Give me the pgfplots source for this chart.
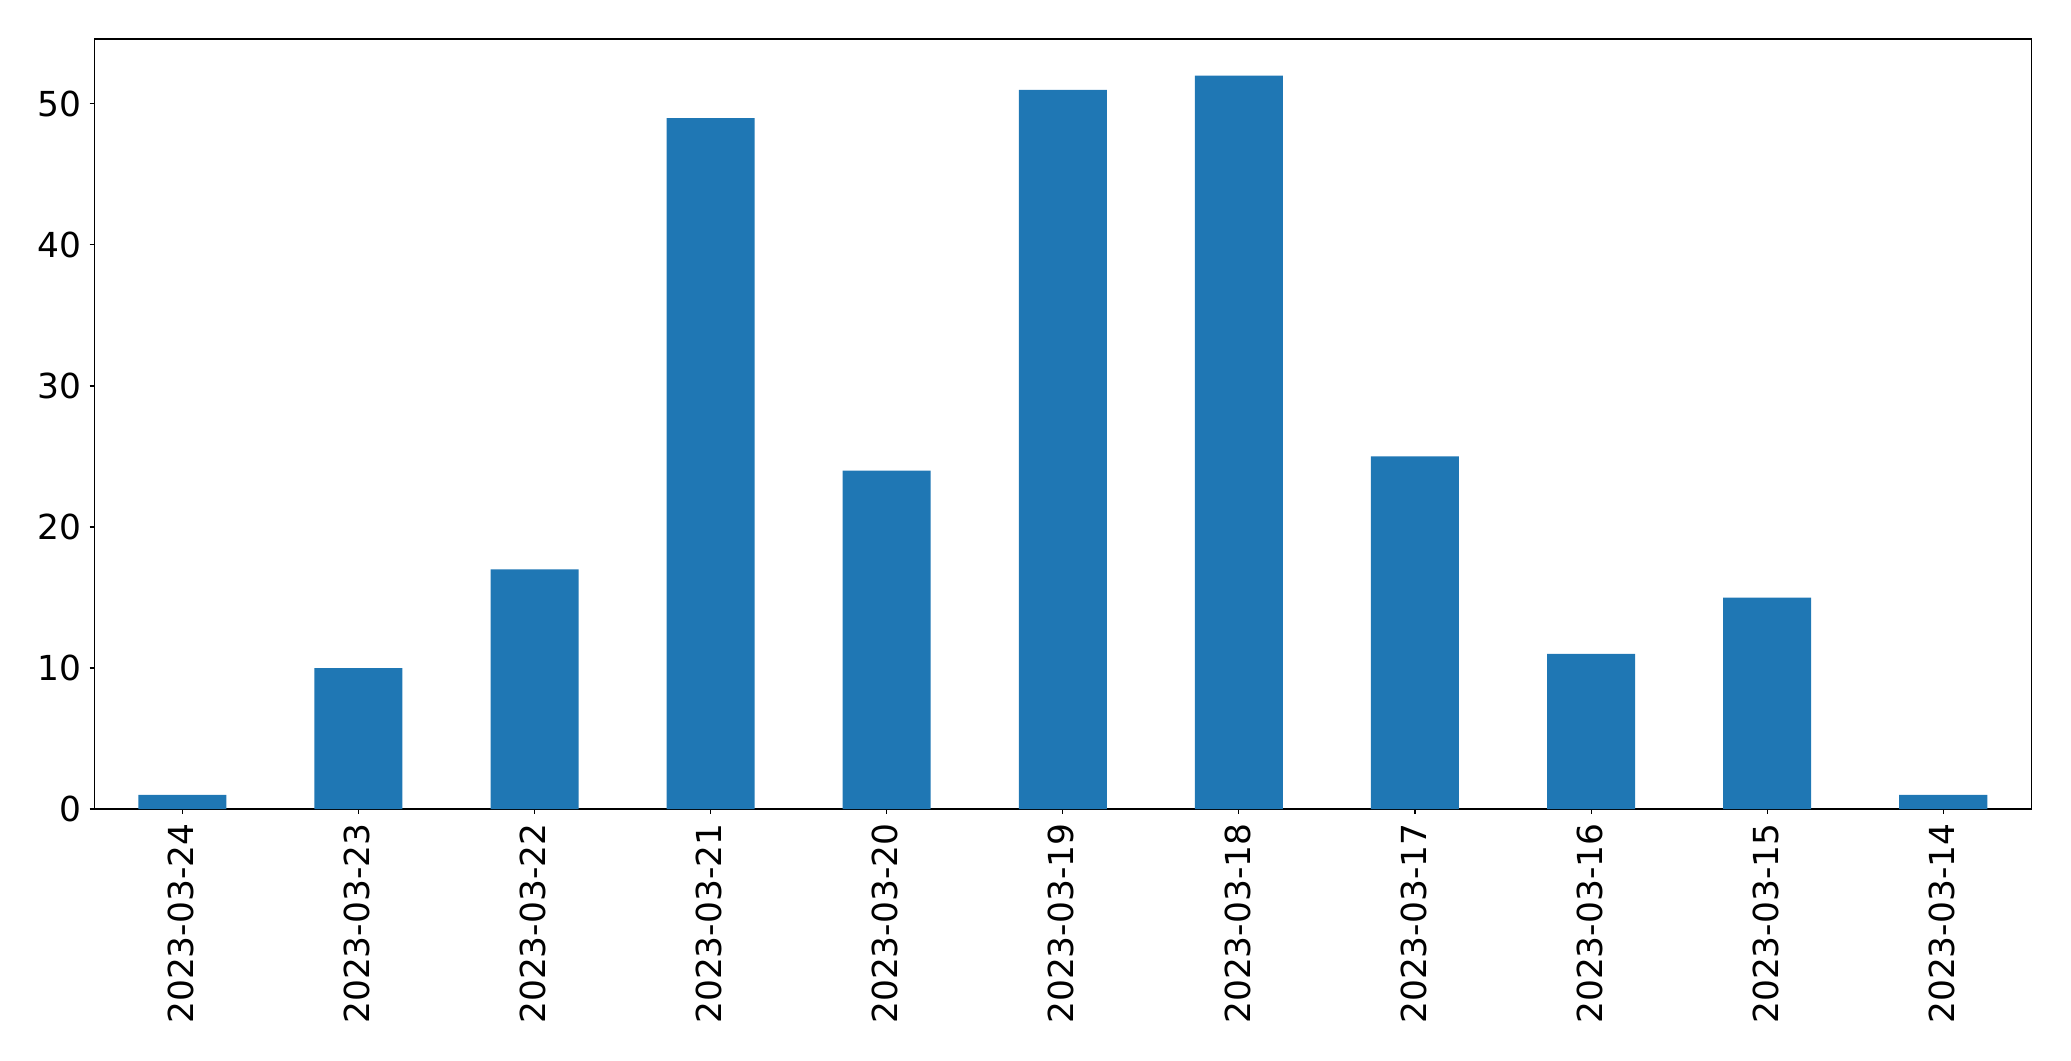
\documentclass[border=0pt]{standalone}
\usepackage{pgfplots}
\pgfplotsset{compat=1.18}
\usepackage{fontspec}
\setmainfont{DejaVu Sans}
\definecolor{tabblue}{HTML}{1F77B4}
\begin{document}
\fontsize{24.8pt}{30pt}\selectfont
\begin{tikzpicture}
\useasboundingbox (-67.9pt,-181.4pt) rectangle (1423.2pt,582.5pt);
\begin{axis}[
  at={(0pt,0pt)}, anchor=south west,
  scale only axis,
  width=1394.6pt, height=554.4pt,
  xmin=-0.5, xmax=10.5, ymin=0, ymax=54.6,
  axis line style={line width=0.8pt},
  tick style={line width=0.8pt, black},
  tick align=outside,
  major tick length=3.4pt,
  xtick={0,...,10},
  xticklabels={2023-03-24,2023-03-23,2023-03-22,2023-03-21,2023-03-20,2023-03-19,2023-03-18,2023-03-17,2023-03-16,2023-03-15,2023-03-14},
  ytick={0,10,20,30,40,50},
  xtick pos=bottom, ytick pos=left,
  /pgf/number format/assume math mode=true,
  ticklabel style={font=\fontsize{24.8pt}{30pt}\selectfont},
  xticklabel style={rotate=90, anchor=east, inner sep=0pt, xshift=-6.9pt, yshift=1pt},
  yticklabel style={anchor=east, inner sep=0pt, xshift=-6pt},
]
\addplot[ybar, bar width=0.5, bar shift=0pt, fill=tabblue, draw=none]
  coordinates {(0,1) (1,10) (2,17) (3,49) (4,24) (5,51) (6,52) (7,25) (8,11) (9,15) (10,1)};
\end{axis}
\end{tikzpicture}
\end{document}
